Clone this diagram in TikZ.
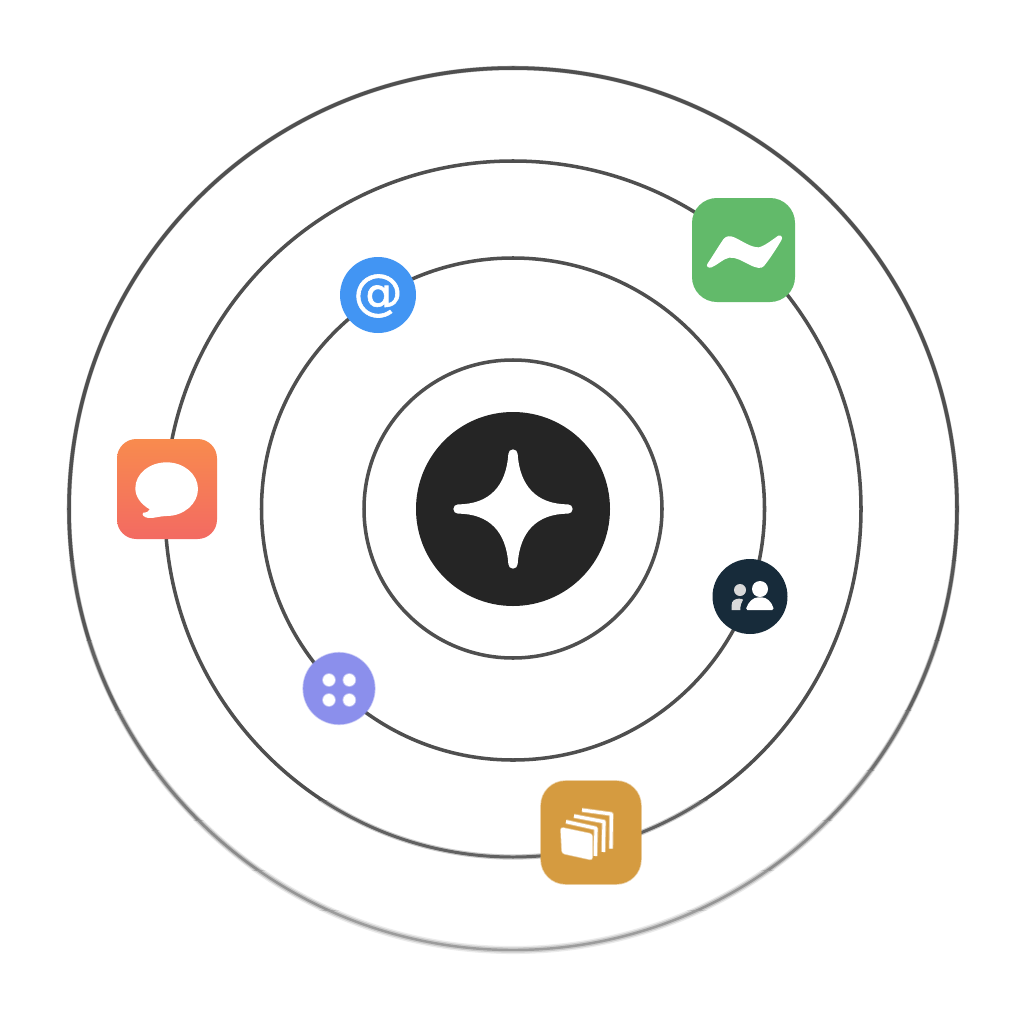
\documentclass[tikz,border=0pt]{standalone}
\usepackage{fontspec}
\setmainfont{DejaVu Sans}
\newfontfamily\atfont[FakeBold=1.3]{DejaVu Sans}
\definecolor{ringc}{HTML}{4F4F4F}
\definecolor{hubc}{HTML}{252525}
\definecolor{greenc}{HTML}{62BA6A}
\definecolor{bluec}{HTML}{4295F3}
\definecolor{navyc}{HTML}{172B3A}
\definecolor{purplec}{HTML}{8B8FEC}
\definecolor{amberc}{HTML}{D59B40}
\definecolor{orangetop}{HTML}{F88B4E}
\definecolor{orangebot}{HTML}{F36A62}
\tikzset{
  ring/.style={draw=ringc,line width=2pt},
  zoomed/.style={x=0.006667cm,y=-0.006667cm},
  softline/.style={line width=#1,draw opacity=0.45},
}
\begin{document}
\begin{tikzpicture}[x=0.02cm,y=-0.02cm]
\useasboundingbox (0,0) rectangle (1024,1024);
\fill[white] (0,0) rectangle (1024,1024);
% rings
\draw[ring] (513,509) ellipse [x radius=149,y radius=149];
\draw[ring] (513,509) ellipse [x radius=251.5,y radius=251];
% third ring, softer towards the bottom
\begin{scope}
\clip (0,0) rectangle (1024,800);
\draw[ring] (513,509) ellipse [x radius=348,y radius=348];
\end{scope}
\begin{scope}
\clip (0,800) rectangle (1024,1024);
\draw[draw=ringc,line width=3pt,draw opacity=0.3] (513,509) ellipse [x radius=348,y radius=348];
\draw[draw=ringc!90!white,line width=1.7pt] (513,509) ellipse [x radius=348,y radius=348];
\end{scope}
% outer ring, softer towards the bottom
\foreach \ya/\yb/\wo/\wm/\wc/\mixc in {
  0/560/2.6/2.3/2.0/100,
  560/640/2.9/2.4/1.9/96,
  640/710/3.2/2.5/1.8/90,
  710/770/3.5/2.6/1.7/82,
  770/820/3.8/2.7/1.6/74,
  820/870/4.1/2.8/1.5/66,
  870/910/4.4/2.9/1.4/60,
  910/1024/4.6/3.0/1.4/56}{
  \begin{scope}
  \clip (0,\ya) rectangle (1024,\yb);
  \draw[draw=ringc!\mixc!white,line width=\wo pt,draw opacity=0.2] (513,509) ellipse [x radius=444,y radius=441];
  \draw[draw=ringc!\mixc!white,line width=\wm pt,draw opacity=0.4] (513,509) ellipse [x radius=444,y radius=441];
  \draw[draw=ringc!\mixc!white,line width=\wc pt] (513,509) ellipse [x radius=444,y radius=441];
  \end{scope}
}
% hub
\fill[hubc] (513,509) circle [radius=97];
\begin{scope}[shift={(513,509)},zoomed]
\fill[white] (-14,-165) arc[start angle=180,end angle=360,radius=14]
 .. controls (20,-70) and (70,-14) .. (165,-14) arc[start angle=-90,end angle=90,radius=14]
 .. controls (70,14) and (20,70) .. (14,165) arc[start angle=0,end angle=180,radius=14]
 .. controls (-20,70) and (-70,14) .. (-165,14) arc[start angle=90,end angle=270,radius=14]
 .. controls (-70,-14) and (-20,-70) .. (-14,-165) -- cycle;
\end{scope}
% green
\fill[greenc,rounded corners=14.2pt] (692,198) rectangle (795,302);
\begin{scope}[shift={(680,190)},zoomed]
\fill[white] (82,222) .. controls (100,195) and (118,165) .. (130,148)
 .. controls (138,137) and (150,136) .. (165,143)
 .. controls (190,155) and (212,172) .. (236,172)
 .. controls (255,168) and (278,148) .. (295,137)
 .. controls (303,134) and (310,142) .. (304,151)
 .. controls (287,180) and (268,208) .. (252,228)
 .. controls (244,238) and (228,234) .. (208,224)
 .. controls (188,214) and (168,201) .. (148,203)
 .. controls (130,206) and (112,225) .. (95,232)
 .. controls (85,235) and (78,230) .. (82,222) -- cycle;
\end{scope}
% blue
\fill[bluec] (378,295) circle [radius=38];
\node[text=white,font=\fontsize{28pt}{28pt}\atfont,inner sep=0pt] (atsign) at (378,296) {@};
% orange
\shade[top color=orangetop,bottom color=orangebot,rounded corners=11pt] (117,439) rectangle (217,539);
\begin{scope}[shift={(105,430)},zoomed]
\fill[white] (185,97) .. controls (237,97) and (279,133) .. (279,177)
 .. controls (279,221) and (237,258) .. (185,258)
 .. controls (165,258) and (150,265) .. (130,264)
 .. controls (118,262) and (108,255) .. (115,248)
 .. controls (125,248) and (132,244) .. (134,238)
 .. controls (107,222) and (91,200) .. (91,175)
 .. controls (91,131) and (133,97) .. (185,97) -- cycle;
\end{scope}
% navy
\fill[navyc] (750,596.5) circle [radius=37.5];
\begin{scope}[shift={(705,550)},zoomed]
\fill[white] (165,117) circle [radius=24];
\fill[white,rounded corners=1pt] (122,180) .. controls (130,155) and (145,142) .. (165,142) .. controls (185,142) and (200,155) .. (207,180) -- cycle;
\fill[white!85!black] (105,120) circle [radius=18];
\fill[white!85!black] (80,180) -- (80,165) .. controls (80,152) and (90,146) .. (102,146) .. controls (108,146) and (112,147) .. (114,149) .. controls (108,158) and (106,168) .. (106,180) -- cycle;
\end{scope}
% purple
\draw[purplec,fill=purplec,softline=0.9pt] (339,688.5) circle [radius=35.8];
\begin{scope}[shift={(295,645)},zoomed]
\foreach \px/\py in {102/105,163/105,102/165,163/165}
  \draw[white,fill=white,softline=1pt] (\px,\py) circle [radius=18];
\end{scope}
% amber
\draw[amberc,fill=amberc,softline=0.9pt,rounded corners=14pt] (541,781) rectangle (641,884);
\begin{scope}[shift={(530,770)},zoomed]
\draw[white,fill=white,softline=0.8pt,rounded corners=1.5pt] (92,172) -- (187,192) -- (187,270) -- (96,250) -- cycle;
\foreach \ax/\ay/\bx/\by/\cx/\cy in {108/155/198/175/196/258,132/138/222/155/220/246,156/120/244/132/243/236}{
  \draw[white,line width=2.8pt,draw opacity=0.35,line join=round] (\ax,\ay) -- (\bx,\by) -- (\cx,\cy);
  \draw[white,line width=1.8pt,line join=round] (\ax,\ay) -- (\bx,\by) -- (\cx,\cy);
}
\end{scope}
\end{tikzpicture}
\end{document}
